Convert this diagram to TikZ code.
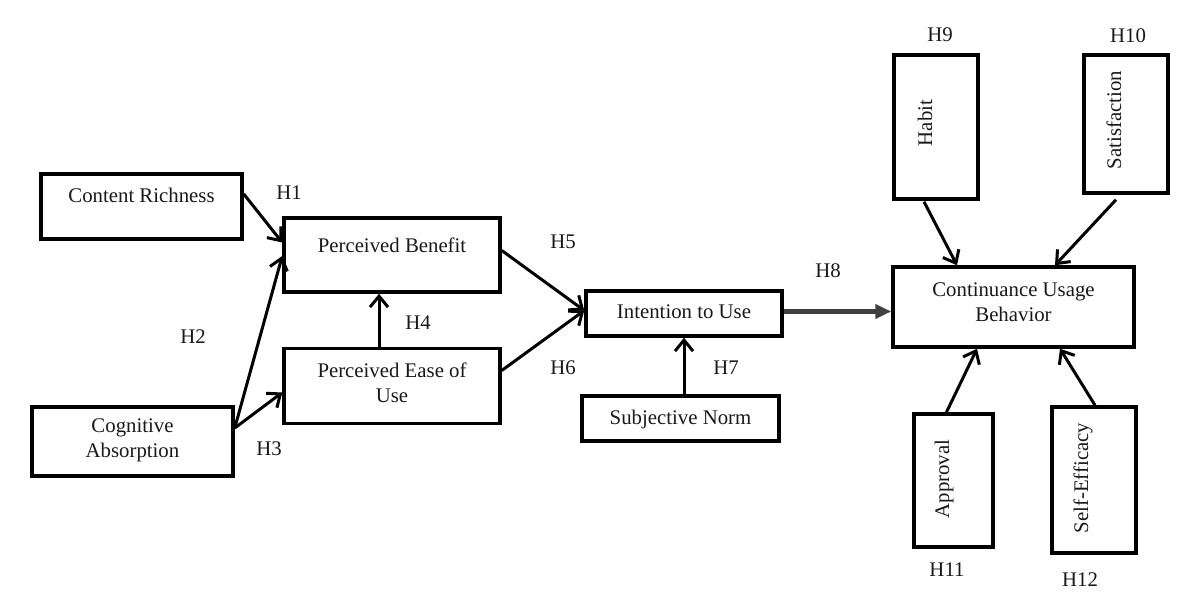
\documentclass[tikz,border=0pt]{standalone}
\usepackage{fontspec}
\setmainfont{Liberation Serif}
\usetikzlibrary{arrows.meta}
\begin{document}
\begin{tikzpicture}[x=0.5pt,y=-0.5pt,
  box/.style={draw=black, line width=1.75pt, rectangle, inner sep=0pt, fill=white},
  lbl/.style={font=\fontsize{10.4}{12.5}\selectfont, inner sep=0pt, align=center, text=black!90},
  hyp/.style={font=\fontsize{10.4}{12.5}\selectfont, inner sep=0pt, text=black!90},
  arr/.style={draw=black, line width=1.5pt, -{Straight Barb[length=5.5pt,width=9pt,line width=1.5pt]}},
  garr/.style={draw=black!75, line width=2.25pt, -{Triangle[length=8pt,width=7pt]}}]
\useasboundingbox (0,0) rectangle (1200,614);
% boxes
\node[box, minimum width=100.5pt, minimum height=32.5pt] (cr) at (141.5,206.5) {};
\node[box, minimum width=100.5pt, minimum height=34.5pt] (ca) at (132.5,441.5) {};
\node[box, minimum width=108pt, minimum height=37pt] (pb) at (392,255) {};
\node[box, minimum width=108pt, minimum height=37.5pt] (pe) at (392,386) {};
\node[box, minimum width=98pt, minimum height=22.5pt] (iu) at (684,313.5) {};
\node[box, minimum width=98.5pt, minimum height=22.5pt] (sn) at (680.5,418.5) {};
\node[box, minimum width=120.5pt, minimum height=40pt] (cub) at (1013.5,307) {};
\node[box, minimum width=42pt, minimum height=72pt] (hab) at (936,127) {};
\node[box, minimum width=42pt, minimum height=69pt] (sat) at (1126,124) {};
\node[box, minimum width=39.5pt, minimum height=66.5pt] (app) at (953.5,480.5) {};
\node[box, minimum width=42pt, minimum height=73pt] (se) at (1094,480) {};
% texts
\node[lbl] (tcr) at (141.5,195) {Content Richness};
\node[lbl] (tca) at (132.5,440.5) {Cognitive\\Absorption};
\node[lbl] (tpb) at (392,245) {Perceived Benefit};
\node[lbl] (tpe) at (392,382.5) {Perceived Ease of\\Use};
\node[lbl] (tiu) at (684,312) {Intention to Use};
\node[lbl] (tsn) at (680.5,419) {Subjective Norm};
\node[lbl] (tcub) at (1013.5,302.5) {Continuance Usage\\Behavior};
\node[lbl, rotate=90] (thab) at (925,123) {Habit};
\node[lbl, rotate=90] (tsat) at (1114,120) {Satisfaction};
\node[lbl, rotate=90] (tapp) at (944,479) {Approval};
\node[lbl, rotate=90] (tse) at (1083,478) {Self-Efficacy};
% hypothesis labels
\node[hyp] (h1) at (289,193) {H1};
\node[hyp] (h2) at (193,337) {H2};
\node[hyp] (h3) at (269,449) {H3};
\node[hyp] (h4) at (418,323) {H4};
\node[hyp] (h5) at (563,242) {H5};
\node[hyp] (h6) at (563,368) {H6};
\node[hyp] (h7) at (726,368) {H7};
\node[hyp] (h8) at (828,271) {H8};
\node[hyp] (h9) at (940,35) {H9};
\node[hyp] (h10) at (1128,36) {H10};
\node[hyp] (h11) at (947,570) {H11};
\node[hyp] (h12) at (1080,580) {H12};
% connectors
\draw[arr] ([yshift=6.25pt]cr.east) -- ([yshift=6.25pt]pb.west);
\draw[arr] ([yshift=6.75pt]ca.east) -- ([yshift=-0.5pt]pb.west);
\draw[arr] ([yshift=6.75pt]ca.east) -- ([yshift=-3.25pt]pe.west);
\draw[arr] ([xshift=-6.5pt]pe.north) -- ([xshift=-6.5pt]pb.south);
\draw[arr] ([yshift=2.25pt]pb.east) -- ([yshift=1.5pt]iu.west);
\draw[arr] ([yshift=7.75pt]pe.east) -- ([yshift=1.5pt]iu.west);
\draw[arr] ([xshift=1.75pt]sn.north) -- (iu.south);
\draw[garr] ([yshift=1pt]iu.east) -- ([yshift=1pt]iu.east -| cub.west);
\draw[arr] ([xshift=-6pt,yshift=-0.5pt]hab.south) -- ([xshift=-28.25pt]cub.north);
\draw[arr] ([xshift=-5pt,yshift=-2.5pt]sat.south) -- ([xshift=20.75pt]cub.north);
\draw[arr] ([xshift=-4.25pt,yshift=-1.5pt]app.north) -- ([xshift=-18.25pt]cub.south);
\draw[arr] ([xshift=0.5pt]se.north) -- ([xshift=23.25pt]cub.south);
\end{tikzpicture}
\end{document}
